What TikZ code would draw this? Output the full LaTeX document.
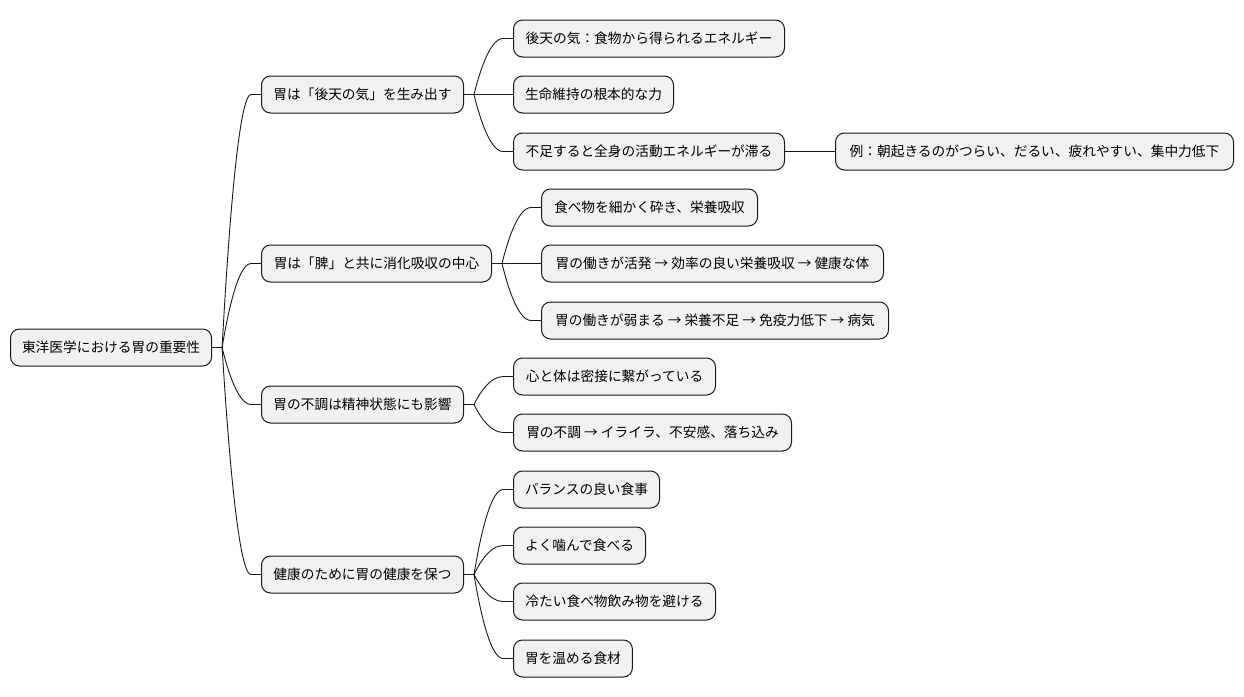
\documentclass[tikz,border=0pt]{standalone}
\usepackage{fontspec}
\setmainfont{Noto Sans CJK JP}
\usetikzlibrary{calc}
\definecolor{boxfill}{HTML}{F1F1F1}
\definecolor{boxline}{HTML}{181818}
\tikzset{
  mm/.style={draw=boxline, fill=boxfill, line width=1pt, rounded corners=9pt,
    anchor=west, minimum height=37pt, inner xsep=11.5pt, inner ysep=0pt,
    font=\fontsize{13.7pt}{16pt}\selectfont, text=black, minimum width=#1},
  mm/.default=10pt,
  link/.style={draw=boxline, line width=0.9pt}
}
\newcommand{\mmlink}[2]{%
  \draw[link] let \p1=(#1.east), \p2=(#2.west) in
    (\p1) -- (\x1+10pt,\y1)
    .. controls ({\x1+10pt+0.12*(\x2-\x1-20pt)},{\y1+0.25*(\y2-\y1)})
            and ({\x1+10pt+0.5*(\x2-\x1-20pt)},\y2) ..
    (\x2-10pt,\y2) -- (\p2);}
\begin{document}
\begin{tikzpicture}[x=1pt,y=-1pt]
\useasboundingbox (0,0) rectangle (1244,696);
\node[mm=201pt] (root) at (10,347.5) {東洋医学における胃の重要性};
\node[mm=202pt] (a) at (261,94.5) {胃は「後天の気」を生み出す};
\node[mm=230pt] (b) at (261,263.5) {胃は「脾」と共に消化吸収の中心};
\node[mm=202pt] (c) at (261,404.5) {胃の不調は精神状態にも影響};
\node[mm=202pt] (d) at (261,574.5) {健康のために胃の健康を保つ};
\node[mm=271pt] (a1) at (513,38.5) {後天の気：食物から得られるエネルギー};
\node[mm=159pt] (a2) at (513,94.5) {生命維持の根本的な力};
\node[mm=271pt] (a3) at (513,151.5) {不足すると全身の活動エネルギーが滞る};
\node[mm=398pt] (a3x) at (835,151.5) {例：朝起きるのがつらい、だるい、疲れやすい、集中力低下};
\node[mm=216pt] (b1) at (541,207.5) {食べ物を細かく砕き、栄養吸収};
\node[mm=342pt] (b2) at (541,263.5) {胃の働きが活発 → 効率の良い栄養吸収 → 健康な体};
\node[mm=347pt] (b3) at (541,320.5) {胃の働きが弱まる → 栄養不足 → 免疫力低下 → 病気};
\node[mm=202pt] (c1) at (513,376.5) {心と体は密接に繋がっている};
\node[mm=278pt] (c2) at (513,432.5) {胃の不調 → イライラ、不安感、落ち込み};
\node[mm=146pt] (d1) at (513,489.5) {バランスの良い食事};
\node[mm=132pt] (d2) at (513,545.5) {よく噛んで食べる};
\node[mm=202pt] (d3) at (513,601.5) {冷たい食べ物飲み物を避ける};
\node[mm=118pt] (d4) at (513,658.5) {胃を温める食材};
\mmlink{root}{a}\mmlink{root}{b}\mmlink{root}{c}\mmlink{root}{d}
\mmlink{a}{a1}\mmlink{a}{a2}\mmlink{a}{a3}\mmlink{a3}{a3x}
\mmlink{b}{b1}\mmlink{b}{b2}\mmlink{b}{b3}
\mmlink{c}{c1}\mmlink{c}{c2}
\mmlink{d}{d1}\mmlink{d}{d2}\mmlink{d}{d3}\mmlink{d}{d4}
\end{tikzpicture}
\end{document}
